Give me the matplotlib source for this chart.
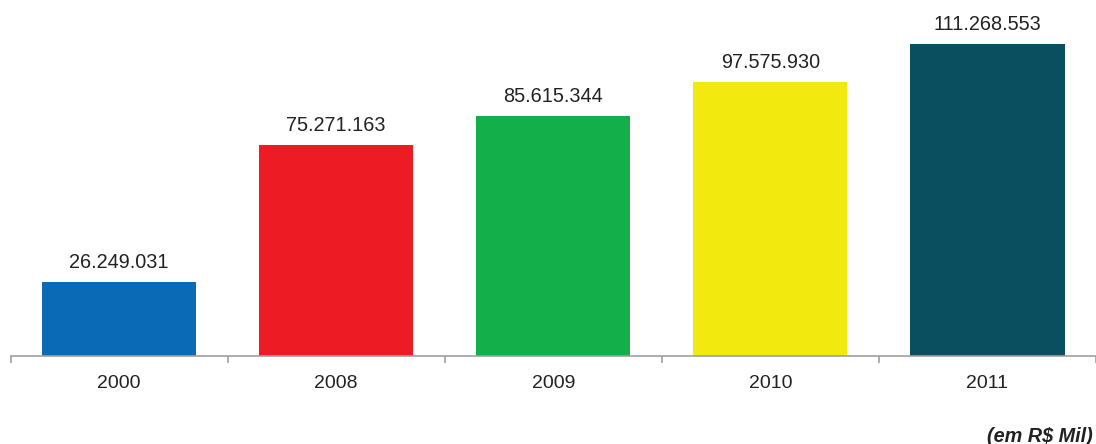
import matplotlib
matplotlib.use("Agg")
import matplotlib.pyplot as plt

years = ["2000", "2008", "2009", "2010", "2011"]
values = [26249031, 75271163, 85615344, 97575930, 111268553]
labels = ["26.249.031", "75.271.163", "85.615.344", "97.575.930", "111.268.553"]
colors = ["#0A6AB6", "#ED1C24", "#13AF4B", "#F2EA0F", "#0A4F5F"]

plt.rcParams['font.family'] = ['Liberation Sans', 'DejaVu Sans']

fig = plt.figure(figsize=(10.96, 4.44), dpi=100)
ax = fig.add_axes([10.5/1096, 1 - 356/444, 1 - 10.5/1096, 356/444])
x = list(range(len(years)))
ax.bar(x, values, width=0.71, color=colors, zorder=2)
ax.set_xlim(-0.5, len(years) - 0.5)
ax.set_ylim(0, 127.0e6)
for xi, v, lab in zip(x, values, labels):
    ax.annotate(lab, (xi, v), xytext=(0, 7.5), textcoords="offset points",
                ha="center", va="bottom", fontsize=14.3, color="#222222")
for s in ["top", "right", "left"]:
    ax.spines[s].set_visible(False)
ax.spines["bottom"].set_color("#A0A0A0")
ax.spines["bottom"].set_linewidth(1.2)
ax.set_yticks([])
ax.set_xticks([i - 0.5 for i in range(len(years) + 1)])
ax.set_xticklabels([])
ax.set_xticks(x, minor=True)
ax.set_xticklabels(years, minor=True)
ax.tick_params(axis="x", which="major", length=5, color="#A0A0A0", width=1.2)
ax.tick_params(axis="x", which="minor", length=0, pad=14, labelsize=14, labelcolor="#222222")
fig.text(1093/1096, 1 - 436/444, "(em R$ Mil)", ha="right", va="center",
         fontsize=14.3, fontweight="bold", fontstyle="italic", color="#222222")
fig.savefig("out.png", dpi=100)
